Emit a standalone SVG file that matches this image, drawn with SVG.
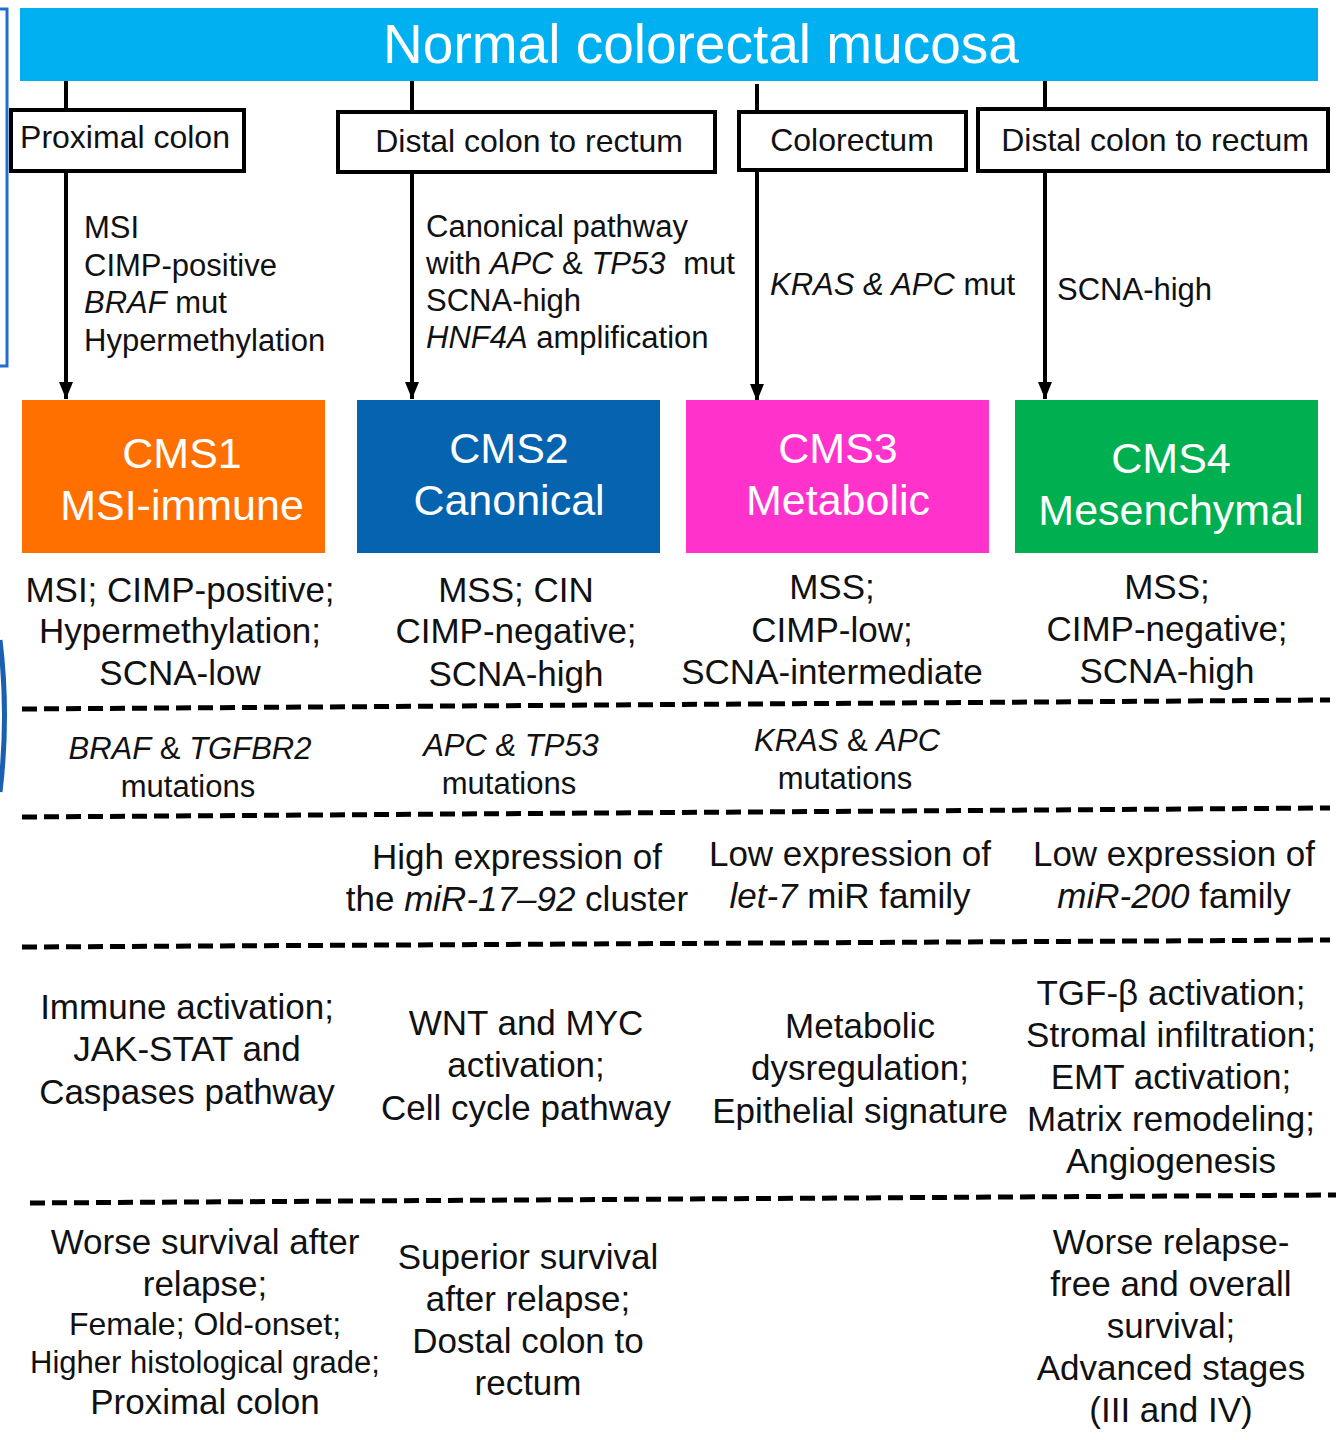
<svg xmlns="http://www.w3.org/2000/svg" width="1336" height="1440" viewBox="0 0 1336 1440">
<defs>
<marker id="ah" markerUnits="userSpaceOnUse" markerWidth="18" markerHeight="16" viewBox="0 0 18 16" refX="17" refY="8" orient="auto">
<path d="M0,1 L17,8 L0,15 Z" fill="#000"/>
</marker>
<style>
text{font-family:"Liberation Sans",Arial,sans-serif;fill:#111}
.ti{font-size:55px;fill:#fff;text-anchor:middle}
.box{fill:#fff;stroke:#000;stroke-width:4}
.bl{font-size:32px;text-anchor:middle}
.lab{font-size:31px}
.cms{font-size:43px;fill:#fff;text-anchor:middle}
.c35{font-size:35px;text-anchor:middle}
.c31{font-size:31px;text-anchor:middle}
.c32{font-size:32px;text-anchor:middle}
.i{font-style:italic}
.conn{stroke:#000;stroke-width:4;fill:none}
.dash{stroke:#000;stroke-width:5;stroke-dasharray:15 7;fill:none}
</style>
</defs>
<rect width="1336" height="1440" fill="#fff"/>
<g id="decor">
<path d="M0,9 H7 V366 H0" fill="none" stroke="#1f6fd1" stroke-width="3"/>
<path d="M0,640 Q9,715 0,792" fill="none" stroke="#1a5fb0" stroke-width="5"/>
</g>
<g id="banner">
<rect x="20" y="8" width="1298" height="73" fill="#00b0f0"/>
<text class="ti" x="701" y="63">Normal colorectal mucosa</text>
</g>
<g id="connectors">
<line class="conn" x1="66" y1="81" x2="66" y2="110"/>
<line class="conn" x1="412" y1="81" x2="412" y2="112"/>
<line class="conn" x1="757" y1="84" x2="757" y2="112"/>
<line class="conn" x1="1045" y1="81" x2="1045" y2="109"/>
<line class="conn" x1="66" y1="171" x2="66" y2="399" marker-end="url(#ah)"/>
<line class="conn" x1="412" y1="172" x2="412" y2="399" marker-end="url(#ah)"/>
<line class="conn" x1="757" y1="170" x2="757" y2="401" marker-end="url(#ah)"/>
<line class="conn" x1="1045" y1="171" x2="1045" y2="399" marker-end="url(#ah)"/>
</g>
<g id="loc-proximal">
<rect class="box" x="11" y="110" width="233" height="61"/>
<text class="bl" x="125" y="148">Proximal colon</text>
</g>
<g id="loc-distal1">
<rect class="box" x="338" y="112" width="377" height="60"/>
<text class="bl" x="529" y="152">Distal colon to rectum</text>
</g>
<g id="loc-colorectum">
<rect class="box" x="739" y="112" width="227" height="58"/>
<text class="bl" x="852" y="151">Colorectum</text>
</g>
<g id="loc-distal2">
<rect class="box" x="978" y="109" width="350" height="62"/>
<text class="bl" x="1155" y="151">Distal colon to rectum</text>
</g>
<g id="labels">
<text class="lab" x="84" y="238">MSI</text>
<text class="lab" x="84" y="276">CIMP-positive</text>
<text class="lab" x="84" y="313"><tspan class="i">BRAF</tspan> mut</text>
<text class="lab" x="84" y="351">Hypermethylation</text>
<text class="lab" x="426" y="237">Canonical pathway</text>
<text class="lab" x="426" y="274">with <tspan class="i">APC</tspan> &amp; <tspan class="i">TP53</tspan> <tspan dx="9">mut</tspan></text>
<text class="lab" x="426" y="311">SCNA-high</text>
<text class="lab" x="426" y="348"><tspan class="i">HNF4A</tspan> amplification</text>
<text class="lab" x="770" y="295"><tspan class="i">KRAS &amp; APC</tspan> mut</text>
<text class="lab" x="1057" y="300">SCNA-high</text>
</g>
<g id="cms1">
<rect x="22" y="400" width="303" height="153" fill="#ff7000"/>
<text class="cms" x="182" y="468">CMS1</text>
<text class="cms" x="182" y="520">MSI-immune</text>
</g>
<g id="cms2">
<rect x="357" y="400" width="303" height="153" fill="#0563b0"/>
<text class="cms" x="509" y="463">CMS2</text>
<text class="cms" x="509" y="515">Canonical</text>
</g>
<g id="cms3">
<rect x="686" y="400" width="303" height="153" fill="#ff33cc"/>
<text class="cms" x="838" y="463">CMS3</text>
<text class="cms" x="838" y="515">Metabolic</text>
</g>
<g id="cms4">
<rect x="1015" y="400" width="303" height="153" fill="#00b050"/>
<text class="cms" x="1171" y="473">CMS4</text>
<text class="cms" x="1171" y="525">Mesenchymal</text>
</g>
<g id="dividers">
<line class="dash" x1="22" y1="709" x2="1330" y2="700"/>
<line class="dash" x1="22" y1="817" x2="1330" y2="808"/>
<line class="dash" x1="22" y1="947" x2="1330" y2="940"/>
<line class="dash" x1="30" y1="1203" x2="1336" y2="1195"/>
</g>
<g id="row-features">
<text class="c35" x="180" y="602">MSI; CIMP-positive;</text>
<text class="c35" x="180" y="643">Hypermethylation;</text>
<text class="c35" x="180" y="685">SCNA-low</text>
<text class="c35" x="516" y="602">MSS; CIN</text>
<text class="c35" x="516" y="643">CIMP-negative;</text>
<text class="c35" x="516" y="686">SCNA-high</text>
<text class="c35" x="832" y="599">MSS;</text>
<text class="c35" x="832" y="642">CIMP-low;</text>
<text class="c35" x="832" y="684">SCNA-intermediate</text>
<text class="c35" x="1167" y="599">MSS;</text>
<text class="c35" x="1167" y="641">CIMP-negative;</text>
<text class="c35" x="1167" y="683">SCNA-high</text>
</g>
<g id="row-mutations">
<text class="c31" x="190" y="759"><tspan class="i">BRAF</tspan> &amp; <tspan class="i">TGFBR2</tspan></text>
<text class="c31" x="188" y="797">mutations</text>
<text class="c31" x="511" y="756"><tspan class="i">APC &amp; TP53</tspan></text>
<text class="c31" x="509" y="794">mutations</text>
<text class="c31" x="847" y="751"><tspan class="i">KRAS</tspan> &amp; <tspan class="i">APC</tspan></text>
<text class="c31" x="845" y="789">mutations</text>
</g>
<g id="row-mirna">
<text class="c35" x="517" y="869">High expression of</text>
<text class="c35" x="517" y="911">the <tspan class="i">miR-17–92</tspan> cluster</text>
<text class="c35" x="850" y="866">Low expression of</text>
<text class="c35" x="850" y="908"><tspan class="i">let-7</tspan> miR family</text>
<text class="c35" x="1174" y="866">Low expression of</text>
<text class="c35" x="1174" y="908"><tspan class="i">miR-200</tspan> family</text>
</g>
<g id="row-pathways">
<text class="c35" x="187" y="1019">Immune activation;</text>
<text class="c35" x="187" y="1061">JAK-STAT and</text>
<text class="c35" x="187" y="1104">Caspases pathway</text>
<text class="c35" x="526" y="1035">WNT and MYC</text>
<text class="c35" x="526" y="1077">activation;</text>
<text class="c35" x="526" y="1120">Cell cycle pathway</text>
<text class="c35" x="860" y="1038">Metabolic</text>
<text class="c35" x="860" y="1080">dysregulation;</text>
<text class="c35" x="860" y="1123">Epithelial signature</text>
<text class="c35" x="1171" y="1005">TGF-β activation;</text>
<text class="c35" x="1171" y="1047">Stromal infiltration;</text>
<text class="c35" x="1171" y="1089">EMT activation;</text>
<text class="c35" x="1171" y="1131">Matrix remodeling;</text>
<text class="c35" x="1171" y="1173">Angiogenesis</text>
</g>
<g id="row-clinical">
<text class="c35" x="205" y="1254">Worse survival after</text>
<text class="c35" x="205" y="1296">relapse;</text>
<text class="c32" x="205" y="1335">Female; Old-onset;</text>
<text class="c31" x="205" y="1373">Higher histological grade;</text>
<text class="c35" x="205" y="1414">Proximal colon</text>
<text class="c35" x="528" y="1269">Superior survival</text>
<text class="c35" x="528" y="1311">after relapse;</text>
<text class="c35" x="528" y="1353">Dostal colon to</text>
<text class="c35" x="528" y="1395">rectum</text>
<text class="c35" x="1171" y="1254">Worse relapse-</text>
<text class="c35" x="1171" y="1296">free and overall</text>
<text class="c35" x="1171" y="1338">survival;</text>
<text class="c35" x="1171" y="1380">Advanced stages</text>
<text class="c35" x="1171" y="1422">(III and IV)</text>
</g>
</svg>
